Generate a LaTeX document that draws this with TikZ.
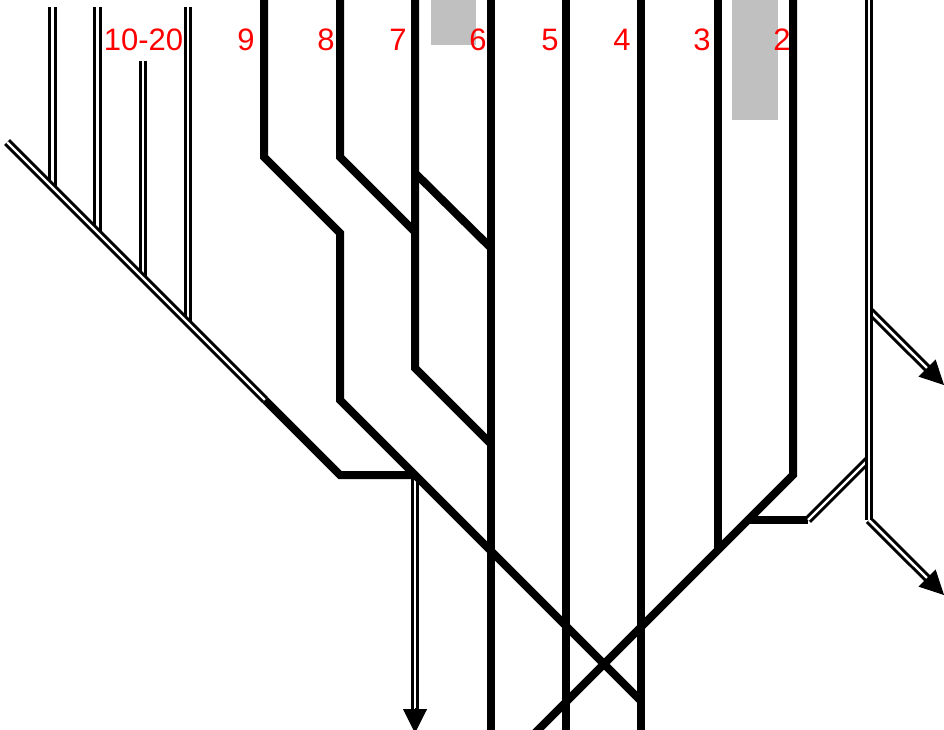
\documentclass[tikz,border=0pt]{standalone}
\usepackage{fontspec}
\setmainfont{Liberation Sans}
\usetikzlibrary{arrows.meta}
\definecolor{panelgrey}{HTML}{C0C0C0}
\tikzset{
  x=1pt,y=-1pt,
  heavy/.style={line width=8pt,line cap=butt,line join=miter},
  twin/.style={line width=3pt,double=white,double distance=2.4pt,line cap=butt},
  headtip/.style={line width=1pt,-{Triangle[length=24pt,width=24pt,inset=0pt]}},
  panel/.style={fill=panelgrey,draw=none},
  tag/.style={text=red,font=\fontsize{31}{31}\selectfont,anchor=base,inner sep=0pt}
}
\begin{document}
\begin{tikzpicture}
\useasboundingbox (0,0) rectangle (944,729);
\clip (0,0) rectangle (944,729);
\fill[white] (0,0) rectangle (944,729);
% grey panels
\fill[panel] (430.5,0) rectangle (476,45);
\fill[panel] (732,0) rectangle (778,120);
% coordinates
\coordinate (t1) at (52.5,7);   \coordinate (b1) at (52.5,187);
\coordinate (t2) at (97.5,7);   \coordinate (b2) at (97.5,232);
\coordinate (t3) at (142.7,61); \coordinate (b3) at (142.7,277);
\coordinate (t4) at (188,7);  \coordinate (b4) at (188,322);
\coordinate (ds) at (7,142);  \coordinate (de) at (265,400);
\coordinate (a0) at (264,-5); \coordinate (a1) at (264,157);
\coordinate (a2) at (340,233);\coordinate (a3) at (340,400);
\coordinate (a4) at (640,700);
\coordinate (c0) at (340,-5); \coordinate (c1) at (340,157);
\coordinate (c2) at (415,232);
\coordinate (e0) at (415,-5); \coordinate (e1) at (415,173);
\coordinate (e2) at (415,368);
\coordinate (f1) at (491,248);\coordinate (f2) at (491,444);
\coordinate (l6t) at (491,-5);\coordinate (l6b) at (491,735);
\coordinate (l5t) at (566,-5);\coordinate (l5b) at (566,735);
\coordinate (l4t) at (641,-5);\coordinate (l4b) at (641,735);
\coordinate (l3t) at (718,-5);\coordinate (l3b) at (718,550);
\coordinate (l2t) at (793,-5);\coordinate (l2b) at (793,475);
\coordinate (l2e) at (530,738);
\coordinate (g1) at (748,520);\coordinate (g2) at (808,520);
\coordinate (g3) at (868,460);
\coordinate (r0) at (868.8,-5); \coordinate (r1) at (868.8,310);
\coordinate (r2) at (868.8,520);
\coordinate (h1) at (340,475);\coordinate (h2) at (415,475);
\coordinate (v1) at (415,712);\coordinate (v1b) at (415,708);\coordinate (v1t) at (415,733);
\coordinate (q1) at (932,373);\coordinate (q1b) at (928,369);\coordinate (q1t) at (944,385);
\coordinate (q2) at (932,583);\coordinate (q2b) at (928,579);\coordinate (q2t) at (944,595);
% double lines
\draw[twin] (t1) -- (b1);
\draw[twin] (t2) -- (b2);
\draw[twin] (t3) -- (b3);
\draw[twin] (t4) -- (b4);
\draw[twin] (ds) -- (de);
\draw[twin] (h2) -- (v1);
% heavy lines
\draw[heavy] (a0) -- (a1) -- (a2) -- (a3) -- (a4);
\draw[heavy] (c0) -- (c1) -- (c2);
\draw[heavy] (e0) -- (e2) -- (f2);
\draw[heavy] (e1) -- (f1);
\draw[heavy] (l6t) -- (l6b);
\draw[heavy] (l5t) -- (l5b);
\draw[heavy] (l4t) -- (l4b);
\draw[heavy] (l3t) -- (l3b);
\draw[heavy] (l2t) -- (l2b) -- (l2e);
\draw[heavy] (g1) -- (g2);
\draw[heavy] (de) -- (h1) -- (h2);
% right double lines and arrows
\draw[twin] (g2) -- (g3);
\draw[twin] (r1) -- (q1);
\draw[twin] (r2) -- (q2);
\draw[twin] (r0) -- (r2);
\draw[headtip] (v1b) -- (v1t);
\draw[headtip] (q1b) -- (q1t);
\draw[headtip] (q2b) -- (q2t);
% labels
\node[tag] (n10) at (143.5,50) {10-20};
\node[tag] (n9) at (246,50) {9};
\node[tag] (n8) at (326,50) {8};
\node[tag] (n7) at (398,50) {7};
\node[tag] (n6) at (478,50) {6};
\node[tag] (n5) at (550,50) {5};
\node[tag] (n4) at (622,50) {4};
\node[tag] (n3) at (702,50) {3};
\node[tag] (n2) at (782,50) {2};
\end{tikzpicture}
\end{document}
